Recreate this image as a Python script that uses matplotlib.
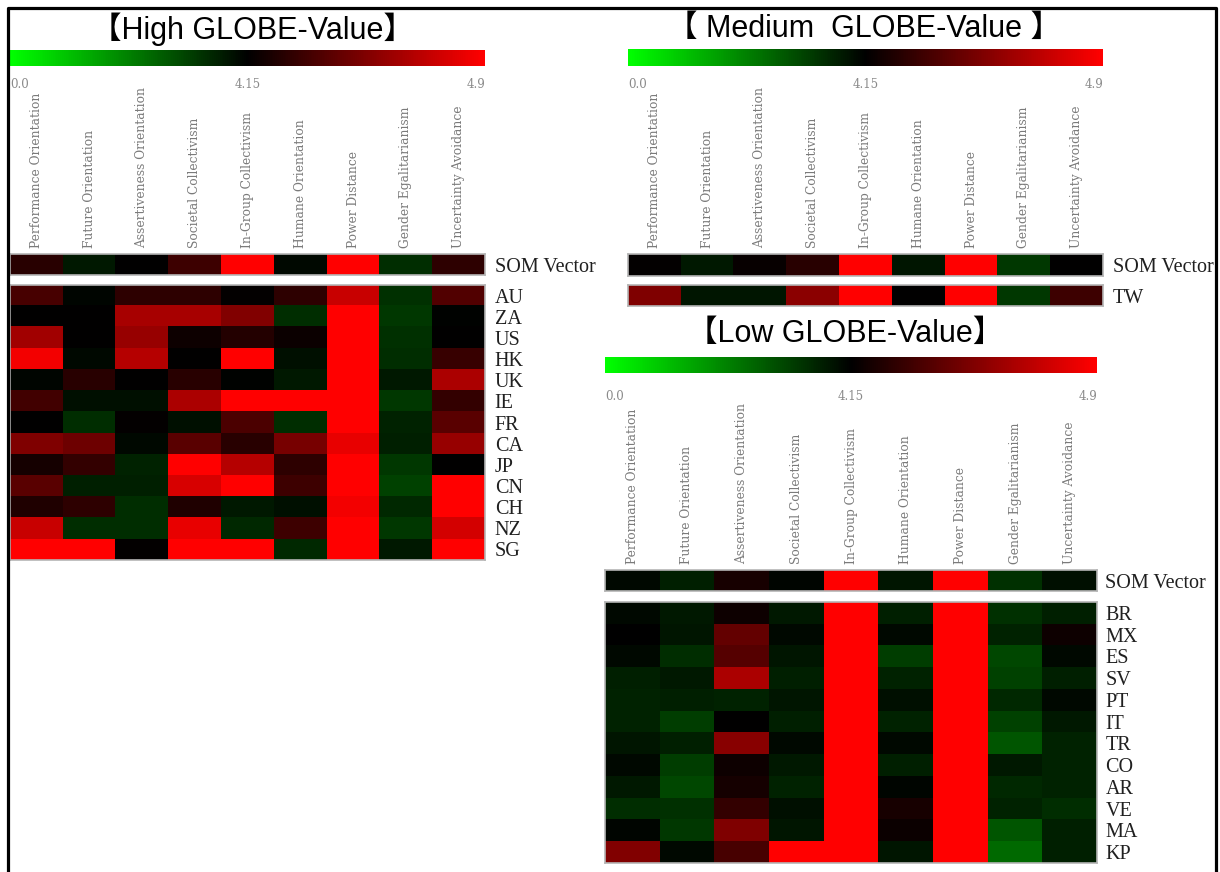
import numpy as np
import matplotlib.pyplot as plt
from matplotlib.colors import LinearSegmentedColormap, TwoSlopeNorm
from matplotlib.cm import ScalarMappable
from matplotlib.lines import Line2D

# GLOBE dimensions (columns)
dims = ['Performance Orientation', 'Future Orientation', 'Assertiveness Orientation',
        'Societal Collectivism', 'In-Group Collectivism', 'Humane Orientation',
        'Power Distance', 'Gender Egalitarianism', 'Uncertainty Avoidance']

# High GLOBE-Value group
high_countries = ['AU', 'ZA', 'US', 'HK', 'UK', 'IE', 'FR', 'CA', 'JP', 'CN', 'CH', 'NZ', 'SG']
high_som = [4.27, 3.74, 4.15, 4.33, 4.90, 3.99, 4.90, 3.42, 4.28]
high_vals = [
    [4.36, 4.07, 4.28, 4.28, 4.16, 4.28, 4.74, 3.34, 4.39],
    [4.15, 4.15, 4.64, 4.64, 4.53, 3.42, 4.90, 3.26, 4.10],
    [4.62, 4.15, 4.59, 4.19, 4.25, 4.18, 4.90, 3.34, 4.15],
    [4.86, 3.99, 4.68, 4.15, 4.90, 3.91, 4.90, 3.42, 4.31],
    [4.07, 4.27, 4.15, 4.27, 4.10, 3.74, 4.90, 3.74, 4.65],
    [4.34, 3.91, 3.91, 4.65, 4.90, 4.90, 4.90, 3.26, 4.30],
    [4.15, 3.42, 4.16, 3.91, 4.37, 3.42, 4.90, 3.58, 4.41],
    [4.52, 4.47, 3.99, 4.41, 4.27, 4.50, 4.83, 3.66, 4.59],
    [4.21, 4.30, 3.58, 4.90, 4.68, 4.28, 4.90, 3.26, 4.15],
    [4.41, 3.66, 3.66, 4.78, 4.90, 4.33, 4.90, 3.09, 4.90],
    [4.24, 4.28, 3.42, 4.24, 3.74, 3.91, 4.86, 3.50, 4.90],
    [4.74, 3.42, 3.42, 4.83, 3.50, 4.33, 4.90, 3.26, 4.77],
    [4.90, 4.90, 4.16, 4.90, 4.90, 3.50, 4.90, 3.74, 4.90],
]

# Medium GLOBE-Value group
med_som = [4.16, 3.74, 4.17, 4.27, 4.90, 3.82, 4.90, 3.26, 4.15]
med_countries = ['TW']
med_vals = [[4.52, 3.82, 3.82, 4.56, 4.90, 4.15, 4.90, 3.26, 4.33]]

# Low GLOBE-Value group
low_countries = ['BR', 'MX', 'ES', 'SV', 'PT', 'IT', 'TR', 'CO', 'AR', 'VE', 'MA', 'KP']
low_som = [3.99, 3.66, 4.22, 4.07, 4.90, 3.82, 4.90, 3.34, 3.91]
low_vals = [
    [4.02, 3.74, 4.19, 3.74, 4.90, 3.66, 4.90, 3.34, 3.66],
    [4.12, 3.82, 4.44, 3.99, 4.90, 3.99, 4.90, 3.58, 4.19],
    [4.02, 3.42, 4.40, 3.82, 4.90, 3.17, 4.90, 3.01, 3.99],
    [3.66, 3.74, 4.65, 3.66, 4.90, 3.58, 4.90, 3.09, 3.66],
    [3.58, 3.66, 3.58, 3.82, 4.90, 3.91, 4.90, 3.50, 3.99],
    [3.58, 3.17, 4.15, 3.66, 4.90, 3.58, 4.90, 3.09, 3.74],
    [3.82, 3.66, 4.55, 3.99, 4.90, 3.99, 4.90, 2.77, 3.58],
    [3.99, 3.17, 4.19, 3.74, 4.90, 3.66, 4.90, 3.74, 3.58],
    [3.74, 3.01, 4.21, 3.58, 4.90, 4.07, 4.90, 3.50, 3.58],
    [3.42, 3.34, 4.30, 3.91, 4.90, 4.22, 4.90, 3.58, 3.42],
    [4.07, 3.26, 4.52, 3.82, 4.90, 4.18, 4.90, 2.77, 3.66],
    [4.53, 3.99, 4.36, 4.90, 4.90, 3.82, 4.90, 2.44, 3.66],
]

cb_ticks = [0.0, 4.15, 4.9]
cb_labels = ['0.0', '4.15', '4.9']

W, H = 1220, 872
fig = plt.figure(figsize=(12.2, 8.72), dpi=100)

cmap = LinearSegmentedColormap.from_list('gkr', ['#00ff00', '#000000', '#ff0000'])
norm = TwoSlopeNorm(vmin=0.0, vcenter=4.15, vmax=4.9)

title_font = ['Liberation Sans', 'Noto Sans CJK SC']
label_font = 'Liberation Serif'
dim_font = 'DejaVu Serif'


def box(x0, y0, x1, y1):
    # pixel box (top-left origin) -> figure fraction
    return [x0 / W, 1 - y1 / H, (x1 - x0) / W, (y1 - y0) / H]


def colorbar(x0, y0, x1, y1, pad):
    cax = fig.add_axes(box(x0, y0, x1, y1))
    cb = fig.colorbar(ScalarMappable(norm=norm, cmap=cmap), cax=cax,
                      orientation='horizontal', ticks=cb_ticks)
    cb.outline.set_visible(False)
    cax.set_xticklabels(cb_labels, fontfamily=dim_font, fontsize=8.5, color='#8a8a8a')
    cax.tick_params(length=0, pad=pad)
    lbls = cax.get_xticklabels()
    lbls[0].set_ha('left')
    lbls[-1].set_ha('right')


def strip(x0, y0, x1, y1, vals, rows, col_labels=False, ypad=7):
    ax = fig.add_axes(box(x0, y0, x1, y1))
    ax.imshow(np.array(vals, ndmin=2), cmap=cmap, norm=norm,
              aspect='auto', interpolation='nearest')
    if col_labels:
        ax.xaxis.tick_top()
        ax.set_xticks(range(len(dims)))
        ax.set_xticklabels(dims, rotation=90, fontfamily=dim_font,
                           fontsize=8.8, color='#7a7a7a')
    else:
        ax.set_xticks([])
    ax.yaxis.tick_right()
    ax.set_yticks(range(len(rows)))
    ax.set_yticklabels(rows, fontfamily=label_font, fontsize=14.5, color='#202020')
    ax.tick_params(length=0, pad=4)
    ax.tick_params(axis='y', pad=ypad)
    for s in ax.spines.values():
        s.set_color('#b5b5b5')
        s.set_linewidth(1.2)
    return ax


# High
fig.text(252 / W, 1 - 29 / H, '【High GLOBE-Value】', fontfamily=title_font,
         fontsize=22, ha='center', va='center')
colorbar(10, 50, 485, 66, 9)
strip(10, 254, 485, 275, high_som, ['SOM Vector'], col_labels=True)
strip(10, 285, 485, 560, high_vals, high_countries)

# Medium
fig.text(864 / W, 1 - 29 / H, '【 Medium  GLOBE-Value 】', fontfamily=title_font,
         fontsize=22, ha='center', va='center')
colorbar(628, 49, 1103, 66, 9)
strip(628, 254, 1103, 276, med_som, ['SOM Vector'], col_labels=True)
strip(628, 285, 1103, 306, med_vals, med_countries)

# Low
fig.text(845 / W, 1 - 334 / H, '【Low GLOBE-Value】', fontfamily=title_font,
         fontsize=22, ha='center', va='center')
colorbar(605, 357, 1097, 373, 12)
strip(605, 570, 1097, 591, low_som, ['SOM Vector'], col_labels=True, ypad=6)
strip(605, 602, 1097, 863, low_vals, low_countries, ypad=6)

# frame
fig.add_artist(Line2D([8 / W, 8 / W, 1216 / W, 1216 / W], [0, 1 - 8 / H, 1 - 8 / H, 0],
                      transform=fig.transFigure, color='black', lw=2.3))

fig.savefig('out.png', dpi=100)
